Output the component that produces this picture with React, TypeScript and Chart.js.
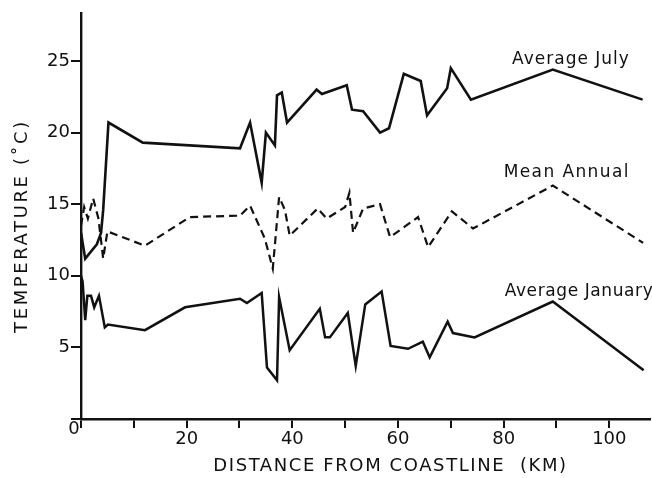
import React, { useEffect, useRef } from 'react';
import { Chart, registerables } from 'chart.js';

Chart.register(...registerables);

const FONT = '"DejaVu Sans", sans-serif';

// Average July
const julyX = [0, 0.8, 3.0, 3.8, 4.2, 5.2, 11.7, 30.1, 32.0, 34.2, 35.0, 36.7, 37.1, 38.0, 39.0, 44.6, 45.6, 50.3, 51.3, 53.4, 56.6, 58.3, 61.1, 64.3, 65.5, 69.3, 70.0, 73.8, 89.3, 106.3];
const julyY = [13.0, 11.2, 12.2, 13.0, 14.6, 20.7, 19.3, 18.9, 20.7, 16.5, 20.0, 19.1, 22.6, 22.8, 20.7, 23.0, 22.7, 23.3, 21.6, 21.5, 20.0, 20.3, 24.1, 23.6, 21.2, 23.1, 24.5, 22.3, 24.4, 22.3];

// Mean Annual
const annualX = [0, 0.6, 1.3, 2.3, 3.3, 4.2, 5.0, 12.1, 20.6, 30.1, 32.0, 34.8, 36.3, 37.5, 38.6, 39.5, 44.8, 46.5, 50.0, 50.8, 51.5, 53.4, 56.6, 58.5, 63.8, 65.7, 70.2, 74.2, 89.3, 106.4];
const annualY = [13.5, 14.8, 14.0, 15.4, 14.0, 11.2, 13.1, 12.1, 14.1, 14.2, 14.9, 12.6, 10.5, 15.5, 14.6, 12.8, 14.7, 14.0, 14.8, 15.8, 13.0, 14.7, 15.0, 12.7, 14.1, 12.0, 14.5, 13.3, 16.3, 12.3];

// Average January
const janX = [0, 0.3, 0.8, 1.2, 1.9, 2.5, 3.4, 4.5, 5.1, 12.1, 19.7, 30.1, 31.4, 34.2, 35.2, 37.1, 37.5, 39.5, 45.2, 46.2, 47.1, 50.5, 52.0, 53.8, 56.9, 58.6, 61.9, 64.7, 66.0, 69.4, 70.4, 74.5, 89.3, 106.5];
const janY = [10.0, 9.6, 6.9, 8.6, 8.6, 7.8, 8.6, 6.4, 6.6, 6.2, 7.8, 8.4, 8.1, 8.8, 3.6, 2.7, 8.5, 4.8, 7.7, 5.7, 5.7, 7.4, 3.7, 8.0, 8.9, 5.1, 4.9, 5.4, 4.3, 6.8, 6.0, 5.7, 8.2, 3.4];

const xTickValues = [0, 10, 20, 30, 40, 50, 60, 70, 80, 90, 100];
const xTickLabels = ['', '', '20', '', '40', '', '60', '', '80', '', '100'];
const yTickValues = [0, 5, 10, 15, 20, 25];
const yTickLabels = ['', '5', '10', '15', '20', '25'];

const seriesNames = ['Average July', 'Mean Annual', 'Average January'];
const labelAnchorX = [81.6, 80.0, 80.2];
const labelAnchorY = [25.1, 17.2, 8.9];

const xTitle = 'DISTANCE FROM COASTLINE  (KM)';
const yTitle = 'TEMPERATURE (˚C)';
const originLabel = '0';

const toPoints = (xs: number[], ys: number[]) => xs.map((x, i) => ({ x, y: ys[i] }));

const textPlugin = {
  id: 'texts',
  afterDraw(chart: any) {
    const { ctx, chartArea, scales } = chart;
    const xs = scales.x;
    const ys = scales.y;
    ctx.save();
    ctx.fillStyle = '#111';
    ctx.font = `17px ${FONT}`;
    ctx.textAlign = 'left';
    ctx.textBaseline = 'middle';
    const spacing = [1, 1.4, 0.6];
    seriesNames.forEach((name, i) => {
      (ctx as any).letterSpacing = `${spacing[i]}px`;
      ctx.fillText(name, xs.getPixelForValue(labelAnchorX[i]), ys.getPixelForValue(labelAnchorY[i]));
    });
    ctx.font = `18px ${FONT}`;
    ctx.textAlign = 'center';
    (ctx as any).letterSpacing = '1.6px';
    ctx.fillText(xTitle, (chartArea.left + chartArea.right) / 2 + 25, chartArea.bottom + 47);
    (ctx as any).letterSpacing = '0px';
    ctx.fillText(originLabel, chartArea.left - 7, chartArea.bottom + 10);
    ctx.translate(chartArea.left - 59, (chartArea.top + chartArea.bottom) / 2 + 10);
    ctx.rotate(-Math.PI / 2);
    (ctx as any).letterSpacing = '2.6px';
    ctx.fillText(yTitle, 0, 0);
    ctx.restore();
  },
};

export default function App() {
  const canvasRef = useRef<HTMLCanvasElement | null>(null);

  useEffect(() => {
    if (!canvasRef.current) return;
    const lineCommon = {
      pointRadius: 0,
      tension: 0,
      borderColor: '#111',
      fill: false,
    };
    const chart = new Chart(canvasRef.current, {
      type: 'line',
      data: {
        datasets: [
          { ...lineCommon, label: seriesNames[0], data: toPoints(julyX, julyY), borderWidth: 2.6 },
          { ...lineCommon, label: seriesNames[1], data: toPoints(annualX, annualY), borderWidth: 2.2, borderDash: [8, 5] },
          { ...lineCommon, label: seriesNames[2], data: toPoints(janX, janY), borderWidth: 2.5 },
        ],
      },
      options: {
        responsive: false,
        animation: false,
        layout: { padding: { top: 13, right: 2, left: 0, bottom: 0 } },
        plugins: { legend: { display: false }, tooltip: { enabled: false } },
        scales: {
          x: {
            type: 'linear',
            min: 0,
            max: 107.7,
            afterBuildTicks: (s: any) => {
              s.ticks = xTickValues.map((v) => ({ value: v }));
            },
            afterFit: (s: any) => {
              s.height = 59;
            },
            ticks: {
              callback: (_v: any, i: number) => xTickLabels[i],
              color: '#111',
              font: { family: FONT, size: 18 },
              padding: 1,
              maxRotation: 0,
              autoSkip: false,
            },
            grid: { drawOnChartArea: false, drawTicks: true, tickLength: 9, color: '#111', lineWidth: 2 },
            border: { display: true, color: '#111', width: 2.4 },
          },
          y: {
            type: 'linear',
            min: 0,
            max: 28.35,
            afterBuildTicks: (s: any) => {
              s.ticks = yTickValues.map((v) => ({ value: v }));
            },
            afterFit: (s: any) => {
              s.width = 81;
            },
            ticks: {
              callback: (_v: any, i: number) => yTickLabels[i],
              color: '#111',
              font: { family: FONT, size: 18 },
              padding: 1,
              autoSkip: false,
            },
            grid: { drawOnChartArea: false, drawTicks: true, tickLength: 10, color: '#111', lineWidth: 2 },
            border: { display: true, color: '#111', width: 2.4 },
          },
        },
      },
      plugins: [textPlugin],
    } as any);
    return () => chart.destroy();
  }, []);

  return (
    <div style={{ position: 'fixed', left: 0, top: 0, width: 652, height: 478, background: '#fff' }}>
      <canvas ref={canvasRef} width={652} height={478} style={{ display: 'block' }} />
    </div>
  );
}
